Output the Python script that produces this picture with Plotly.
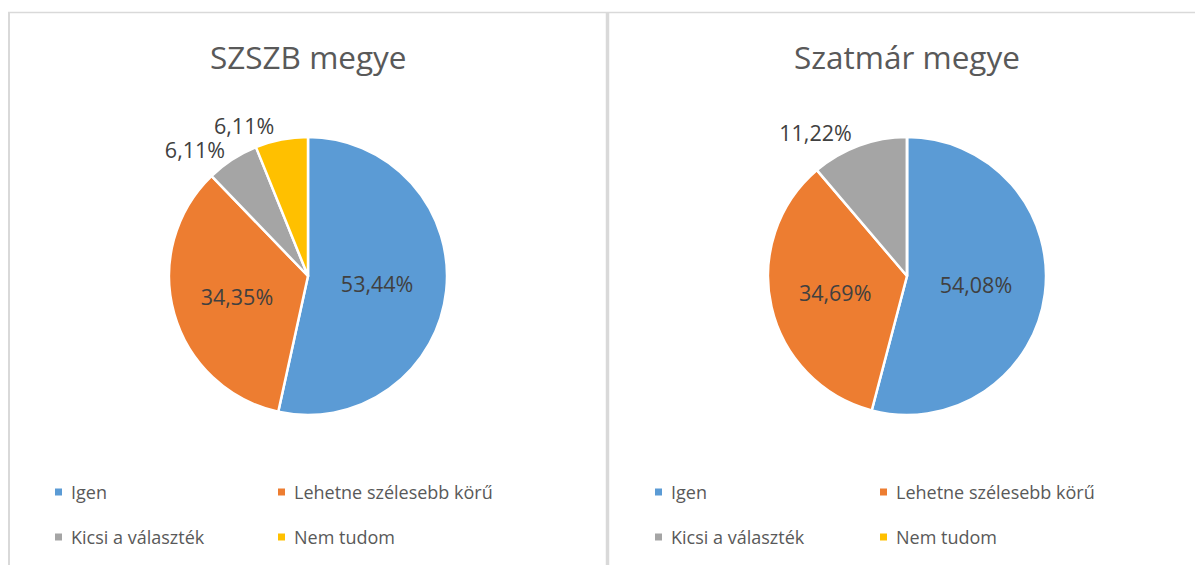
import plotly.graph_objects as go

W, H = 1195, 565

categories = ["Igen", "Lehetne szélesebb körű", "Kicsi a választék", "Nem tudom"]
colors = ["#5B9BD5", "#ED7D31", "#A5A5A5", "#FFC000"]
szszb_values = [53.44, 34.35, 6.11, 6.11]
szatmar_values = [54.08, 34.69, 11.22, 0.0]
titles = ["SZSZB megye", "Szatmár megye"]

FONT = "Open Sans"


def px(x):
    return x / W


def py(y):
    return 1 - y / H


fig = go.Figure()

panels = [
    dict(values=szszb_values, cx=308, title=titles[0], legx=(55, 278)),
    dict(values=szatmar_values, cx=907, title=titles[1], legx=(655, 880)),
]
cy, r = 276, 139


def make_pie(vals, dom, show_idx, visible_marks):
    pos = ["inside" if v > 20 else "outside" for v in vals]
    tmpl = ["%{value:.2f}%" if (v > 0 and i in show_idx) else "" for i, v in enumerate(vals)]
    if visible_marks:
        marker = dict(colors=colors, line=dict(color="white", width=2.5))
    else:
        marker = dict(colors=["rgba(0,0,0,0)"] * len(vals), line=dict(color="rgba(0,0,0,0)", width=0))
    return go.Pie(
        labels=categories,
        values=vals,
        sort=False,
        direction="clockwise",
        rotation=0,
        marker=marker,
        texttemplate=tmpl,
        textposition=pos,
        insidetextorientation="horizontal",
        textfont=dict(family=FONT, size=21.5, color="#404040"),
        domain=dom,
        showlegend=False,
        hoverinfo="label+value" if visible_marks else "skip",
    )


for p in panels:
    vals = p["values"]
    dom = dict(x=[px(p["cx"] - r), px(p["cx"] + r)], y=[py(cy + r), py(cy - r)])
    small = [i for i, v in enumerate(vals) if 0 < v <= 20]
    # main pie: all inside labels + first small-slice label
    main_idx = [i for i, v in enumerate(vals) if v > 20] + small[:1]
    fig.add_trace(make_pie(vals, dom, main_idx, True))
    # remaining small-slice labels on a label-only layer (avoids leader lines)
    for i in small[1:]:
        fig.add_trace(make_pie(vals, dom, [i], False))

annotations = []
shapes = []
for p in panels:
    annotations.append(dict(
        x=px(p["cx"]), y=py(57), xref="paper", yref="paper",
        text=p["title"], showarrow=False, xanchor="center", yanchor="middle",
        font=dict(family=FONT, size=31.5, color="#595959"),
    ))
    rows = [492, 537]
    for i, cat in enumerate(categories):
        mx = p["legx"][i % 2]
        my = rows[i // 2]
        shapes.append(dict(
            type="rect", xref="paper", yref="paper",
            x0=px(mx), x1=px(mx + 7), y0=py(my + 3.5), y1=py(my - 3.5),
            fillcolor=colors[i], line=dict(width=0),
        ))
        annotations.append(dict(
            x=px(mx + 14), y=py(my), xref="paper", yref="paper",
            text=cat, showarrow=False, xanchor="left", yanchor="middle",
            font=dict(family=FONT, size=18, color="#595959"),
        ))

border = "#D9D9D9"
shapes += [
    dict(type="line", xref="paper", yref="paper", x0=px(8), x1=px(1195), y0=py(12.5), y1=py(12.5),
         line=dict(color=border, width=1.5)),
    dict(type="line", xref="paper", yref="paper", x0=px(9), x1=px(9), y0=py(12), y1=py(565),
         line=dict(color=border, width=2)),
    dict(type="line", xref="paper", yref="paper", x0=px(607.5), x1=px(607.5), y0=py(12), y1=py(565),
         line=dict(color=border, width=3.5)),
]

fig.update_layout(
    width=W, height=H,
    margin=dict(l=0, r=0, t=0, b=0),
    paper_bgcolor="white",
    plot_bgcolor="white",
    separators=", ",
    annotations=annotations,
    shapes=shapes,
    font=dict(family=FONT),
)

fig.write_html(
    "out.html",
    config={"displayModeBar": False},
    post_script="document.body.style.margin='0';document.body.style.overflow='hidden';",
)
